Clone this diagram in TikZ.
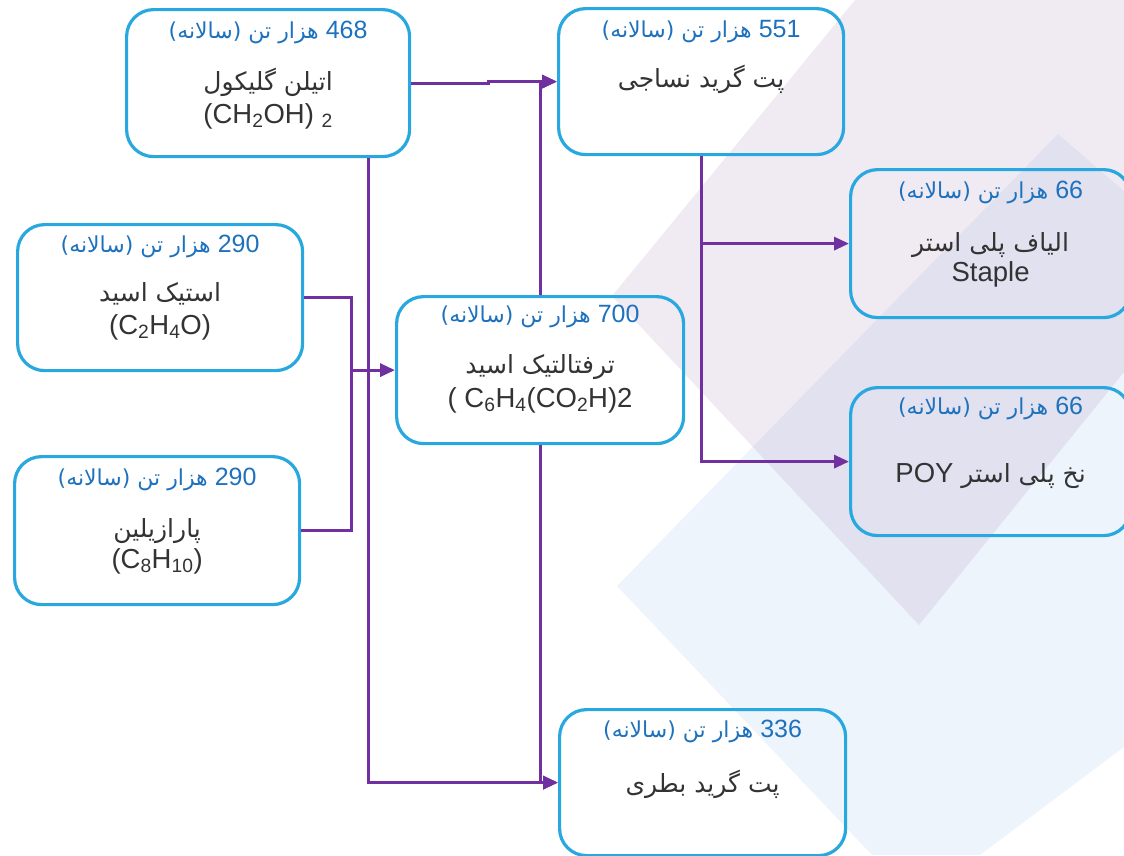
\documentclass[tikz,border=0pt]{standalone}
\usepackage{fontspec}
\setmainfont{Liberation Sans}
\newfontfamily\fa[Script=Arabic]{DejaVu Sans}
\TeXXeTstate=1
\usetikzlibrary{arrows.meta}
\newcommand{\hdr}[1]{{\fa\beginR\beginL{\rmfamily\fontsize{25}{28}\selectfont #1}\endL{} هزار تن (سالانه)\endR}}
\newcommand{\fat}[1]{{\fa\beginR #1\endR}}

\begin{document}
\begin{tikzpicture}[x=1pt, y=-1pt,
    box/.style={draw=boxblue, line width=3.2pt, rounded corners=27pt, anchor=north west, inner sep=0pt},
    hd/.style={anchor=base, text=hdblue, font=\fontsize{22}{26}\selectfont, inner sep=0pt},
    tx/.style={anchor=base, text=txgray, font=\fontsize{25}{30}\selectfont, inner sep=0pt},
    fm/.style={tx, font=\fontsize{27.5}{30}\selectfont},
    ln/.style={draw=lnpurple, line width=3.2pt},
    arr/.style={ln, -{Triangle[length=15pt, width=13pt]}}]
  \definecolor{boxblue}{RGB}{41,168,224}
  \definecolor{hdblue}{RGB}{30,113,189}
  \definecolor{txgray}{RGB}{51,51,51}
  \definecolor{lnpurple}{RGB}{112,48,160}
  \definecolor{bgblue}{RGB}{238,244,252}
  \definecolor{bgpurple}{RGB}{146,110,170}
  \useasboundingbox (0,0) rectangle (1124,855);
  \fill[bgblue] (617,586) -- (1058,134) -- (1124,191) -- (1124,747) -- (980,855) -- (872,855) -- cycle;
  \fill[bgpurple, fill opacity=0.14] (855,0) -- (612,296) -- (919,625) -- (1124,372) -- (1124,0) -- cycle;

  \node[box, minimum width=283pt, minimum height=147pt] (eg)  at (125,8)   {};
  \node[box, minimum width=285pt, minimum height=146pt] (tex) at (557,7)   {};
  \node[box, minimum width=285pt, minimum height=146pt] (ac)  at (16,223)  {};
  \node[box, minimum width=287pt, minimum height=147pt] (ta)  at (395,295) {};
  \node[box, minimum width=285pt, minimum height=148pt] (px)  at (13,455)  {};
  \node[box, minimum width=280pt, minimum height=148pt] (st)  at (849,168) {};
  \node[box, minimum width=280pt, minimum height=148pt] (poy) at (849,386) {};
  \node[box, minimum width=286pt, minimum height=146pt] (bot) at (558,708) {};

  \node[hd] (egh)  at ([yshift=-30pt]eg.north)  {\hdr{468}};
  \node[tx] (egt)  at ([yshift=-82pt]eg.north)  {\fat{اتیلن گلیکول}};
  \node[fm] (egf)  at ([yshift=-115pt]eg.north) {(CH\textsubscript{2}OH) \textsubscript{2}};
  \node[hd] (texh) at ([yshift=-30pt]tex.north) {\hdr{551}};
  \node[tx] (text) at ([yshift=-80pt]tex.north) {\fat{پت گرید نساجی}};
  \node[hd] (ach)  at ([yshift=-29pt]ac.north)  {\hdr{290}};
  \node[tx] (act)  at ([yshift=-78pt]ac.north)  {\fat{استیک اسید}};
  \node[fm] (acf)  at ([yshift=-111pt]ac.north) {(C\textsubscript{2}H\textsubscript{4}O)};
  \node[hd] (tah)  at ([yshift=-27pt]ta.north)  {\hdr{700}};
  \node[tx] (tat)  at ([yshift=-78pt]ta.north)  {\fat{ترفتالتیک اسید}};
  \node[fm] (taf)  at ([yshift=-112pt]ta.north) {( C\textsubscript{6}H\textsubscript{4}(CO\textsubscript{2}H)2};
  \node[hd] (pxh)  at ([yshift=-30pt]px.north)  {\hdr{290}};
  \node[tx] (pxt)  at ([yshift=-82pt]px.north)  {\fat{پارازیلین}};
  \node[fm] (pxf)  at ([yshift=-113pt]px.north) {(C\textsubscript{8}H\textsubscript{10})};
  \node[hd] (sth)  at ([yshift=-30pt]st.north)  {\hdr{66}};
  \node[tx] (stt)  at ([yshift=-83pt]st.north)  {\fat{الیاف پلی استر}};
  \node[fm] (stf)  at ([yshift=-113pt]st.north) {Staple};
  \node[hd] (poyh) at ([yshift=-28pt]poy.north) {\hdr{66}};
  \node[tx] (poyt) at ([yshift=-96pt]poy.north) {{\fa\beginR نخ پلی استر \beginL{\rmfamily\fontsize{27.5}{30}\selectfont POY}\endL\endR}};
  \node[hd] (both) at ([yshift=-29pt]bot.north) {\hdr{336}};
  \node[tx] (bott) at ([yshift=-84pt]bot.north) {\fat{پت گرید بطری}};

  \draw[arr] (eg.east) -- ++(77,0) |- (tex.west);
  \draw[arr] ([xshift=100pt]eg.south) |- (bot.west);
  \draw[arr] (ta.north) |- (tex.west);
  \draw[arr] (ta.south) |- (bot.west);
  \draw[ln] (ac.east) -- ++(47,0) |- (px.east);
  \draw[arr] ([xshift=47pt]ac.east |- ta.west) -- (ta.west);
  \draw[arr] (tex.south) |- (st.west);
  \draw[arr] (tex.south) |- (poy.west);
\end{tikzpicture}
\end{document}
